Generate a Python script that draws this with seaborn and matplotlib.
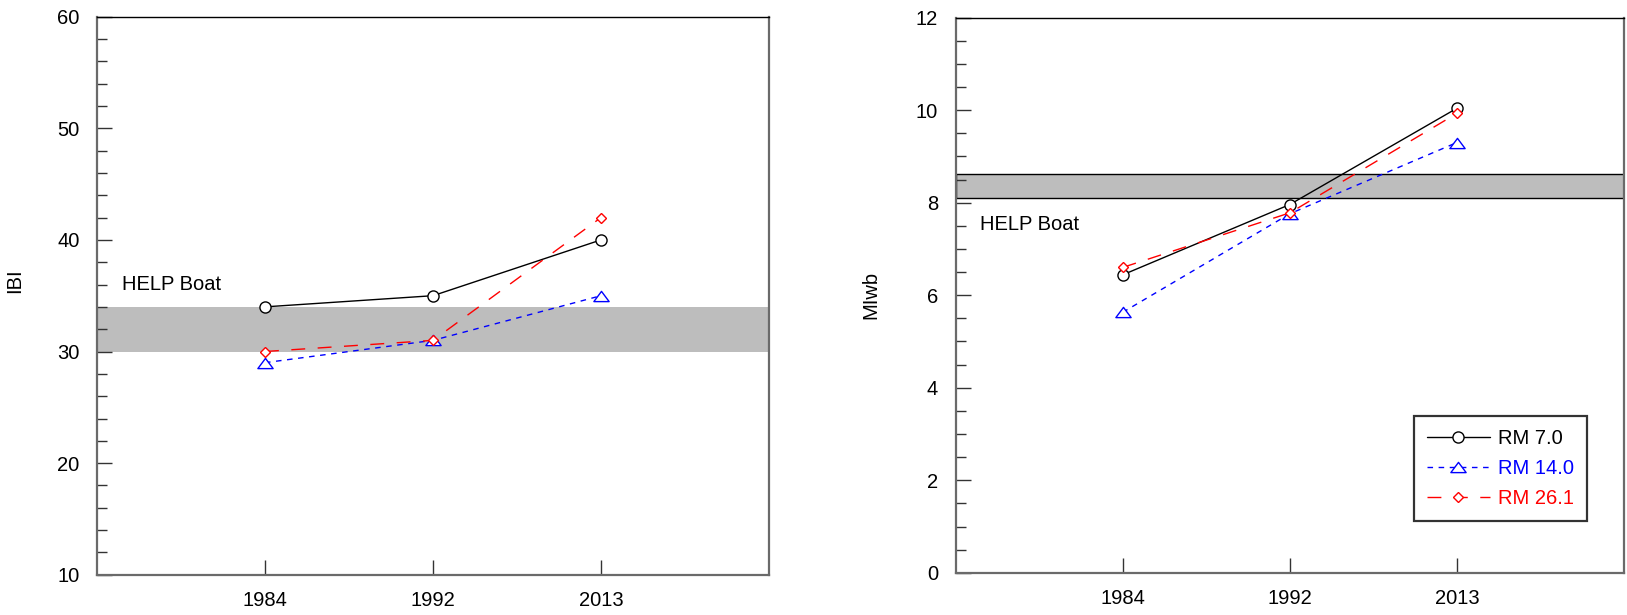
import numpy as np
import pandas as pd
import seaborn as sns
import matplotlib
matplotlib.use("Agg")
import matplotlib.pyplot as plt
from matplotlib.path import Path
from matplotlib.ticker import MultipleLocator

# Survey years and site labels
years = ["1984", "1992", "2013"]
sites = ["RM 7.0", "RM 14.0", "RM 26.1"]

# IBI scores per site
ibi_rm7 = [34, 35, 40]
ibi_rm14 = [29, 31, 35]
ibi_rm26 = [30, 31, 42]

# MIwb scores per site
miwb_rm7 = [6.44, 7.96, 10.04]
miwb_rm14 = [5.63, 7.76, 9.30]
miwb_rm26 = [6.60, 7.78, 9.93]

# HELP Boat criterion ranges
ibi_help = (30, 34)
miwb_help = (8.1, 8.62)
band_label = "HELP Boat"

sns.set_theme(style="ticks")
plt.rcParams["font.family"] = ["Liberation Sans", "DejaVu Sans"]
plt.rcParams["text.color"] = "black"
plt.rcParams["axes.labelcolor"] = "black"

FS = 14.5

# wide, flat triangle used for RM 14.0
tri = Path([(0, 0.67), (-1, -0.67), (1, -0.67), (0, 0.67)],
           [Path.MOVETO, Path.LINETO, Path.LINETO, Path.CLOSEPOLY])

styles = {
    "RM 7.0": dict(color="black", marker="o", ms=8, linestyle="-", lw=1.0),
    "RM 14.0": dict(color="#0000ff", marker=tri, ms=11, linestyle=(0, (4, 4)), lw=1.0),
    "RM 26.1": dict(color="#ff0000", marker="D", ms=5.6, linestyle=(0, (10, 9)), lw=1.0),
}

fig = plt.figure(figsize=(16.27, 6.15), dpi=100)
ax1 = fig.add_axes([97 / 1627, 1 - 574.8 / 615, 672 / 1627, 558.2 / 615])
ax2 = fig.add_axes([955.6 / 1627, 1 - 572.8 / 615, 668.4 / 1627, 555.2 / 615])


def draw_panel(ax, series, band, ylim, major, minor, ylabel, text_y):
    ax.axhspan(*band, facecolor="#bdbdbd", edgecolor="none", zorder=0)
    for site, vals in zip(sites, series):
        st = styles[site]
        df = pd.DataFrame({"year": years, "value": vals})
        sns.lineplot(data=df, x="year", y="value", ax=ax, label=site,
                     color=st["color"], marker=st["marker"], ms=st["ms"],
                     linestyle=st["linestyle"], lw=st["lw"],
                     mfc="white", mec=st["color"], mew=1.0, zorder=3)
    ax.set_xlim(-1, 3)
    ax.set_ylim(*ylim)
    ax.yaxis.set_major_locator(MultipleLocator(major))
    ax.yaxis.set_minor_locator(MultipleLocator(minor))
    ax.set_xlabel("")
    ax.set_ylabel(ylabel, fontsize=FS)
    ax.tick_params(axis="both", which="major", direction="in", length=11,
                   width=1.0, color="#333333", labelsize=FS, labelcolor="black")
    ax.tick_params(axis="y", which="major", pad=12.5)
    ax.tick_params(axis="x", which="major", pad=12)
    ax.tick_params(axis="y", which="minor", direction="in", length=7,
                   width=1.0, color="#333333")
    for side in ["left", "bottom", "right"]:
        ax.spines[side].set_color("#6a6a6a")
        ax.spines[side].set_linewidth(1.6)
    ax.spines["top"].set_color("black")
    ax.spines["top"].set_linewidth(1.0)
    ax.text(-0.853, text_y, band_label, fontsize=FS, va="center", ha="left")
    leg = ax.get_legend()
    if leg is not None:
        leg.remove()


draw_panel(ax1, [ibi_rm7, ibi_rm14, ibi_rm26], ibi_help, (10, 60), 10, 2, "IBI", 36.0)
draw_panel(ax2, [miwb_rm7, miwb_rm14, miwb_rm26], miwb_help, (0, 12), 2, 0.5, "MIwb", 7.52)

# outlined band in the right panel
ax2.axhspan(*miwb_help, facecolor="none", edgecolor="black", lw=1.0, zorder=1)

ax1.yaxis.set_label_coords(-0.109, 0.527)
ax2.yaxis.set_label_coords(-0.112, 0.5)

handles, labels = ax2.get_legend_handles_labels()
leg = ax2.legend(handles, labels, loc="lower left", bbox_to_anchor=(0.686, 0.093),
                 borderaxespad=0, fontsize=FS, frameon=True, fancybox=False,
                 edgecolor="black", handlelength=3.1, handletextpad=0.4,
                 borderpad=0.65, labelspacing=0.55, labelcolor="linecolor",
                 numpoints=1)
leg.get_frame().set_linewidth(1.6)

fig.savefig("out.png", dpi=100, facecolor="white")
